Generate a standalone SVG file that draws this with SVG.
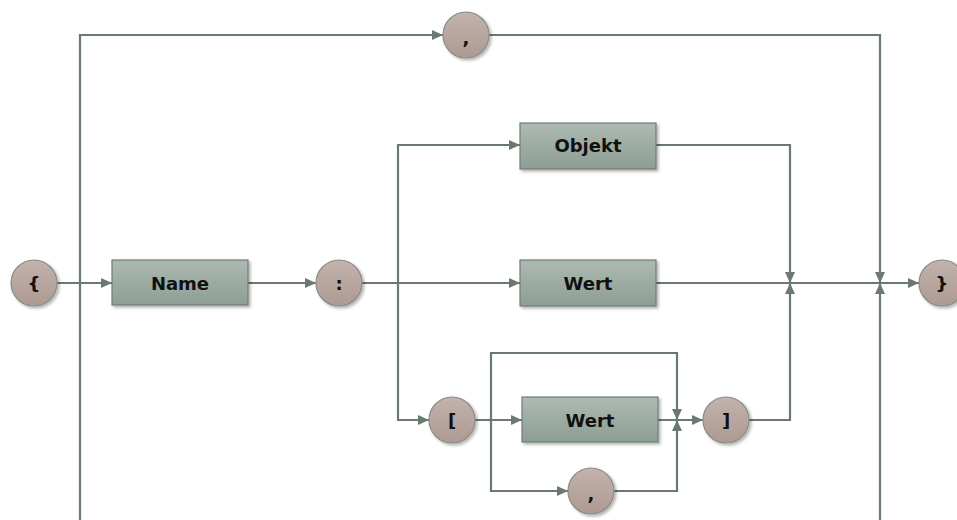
<svg xmlns="http://www.w3.org/2000/svg" width="957" height="520" viewBox="0 0 957 520">
  <style>
    .wire { fill: none; stroke: #6a7972; stroke-width: 2.2; }
    .arrow { marker-end: url(#head); }
    .term { fill: url(#termFill); stroke: #8a8c86; stroke-width: 1.2; filter: url(#shadow); }
    .rule { fill: url(#ruleFill); stroke: #6f7d76; stroke-width: 1.2; filter: url(#shadow); }
    .label { font-family: "DejaVu Sans", "Liberation Sans", sans-serif; font-weight: bold; font-size: 18px; fill: #111; text-anchor: middle; dominant-baseline: central; }
  </style>
  <defs>
    <linearGradient id="termFill" x1="0" y1="0" x2="0" y2="1">
      <stop offset="0" stop-color="#c3b3ac"/>
      <stop offset="1" stop-color="#ad9a92"/>
    </linearGradient>
    <linearGradient id="ruleFill" x1="0" y1="0" x2="0" y2="1">
      <stop offset="0" stop-color="#adbab2"/>
      <stop offset="1" stop-color="#8d9e94"/>
    </linearGradient>
    <filter id="shadow" x="-20%" y="-20%" width="150%" height="150%">
      <feGaussianBlur in="SourceAlpha" stdDeviation="1.5"/>
      <feOffset dx="2" dy="2" result="off"/>
      <feComponentTransfer><feFuncA type="linear" slope="0.3"/></feComponentTransfer>
      <feMerge><feMergeNode/><feMergeNode in="SourceGraphic"/></feMerge>
    </filter>
    <marker id="head" markerUnits="userSpaceOnUse" markerWidth="12" markerHeight="10" refX="11" refY="5" orient="auto">
      <path d="M0,0 L11,5 L0,10 Z" fill="#6a7972"/>
    </marker>
  </defs>

  <g id="connectors">
    <path class="wire arrow" d="M57,283 H112"/>
    <path class="wire arrow" d="M248,283 H316"/>
    <path class="wire arrow" d="M362,283 H520"/>
    <path class="wire arrow" d="M398,283 V145 H520"/>
    <path class="wire arrow" d="M398,283 V420 H429"/>
    <path class="wire arrow" d="M656,145 H790 V283"/>
    <path class="wire arrow" d="M656,283 H919"/>
    <path class="wire arrow" d="M748,420 H790 V283"/>
    <path class="wire arrow" d="M80,283 V35 H443"/>
    <path class="wire" d="M80,283 V520"/>
    <path class="wire arrow" d="M489,35 H880 V283"/>
    <path class="wire arrow" d="M880,520 V283"/>
    <path class="wire arrow" d="M475,420 H522"/>
    <path class="wire arrow" d="M658,420 H703"/>
    <path class="wire arrow" d="M491,420 V353 H677 V420"/>
    <path class="wire arrow" d="M491,420 V491 H568"/>
    <path class="wire arrow" d="M614,491 H677 V420"/>
  </g>

  <g id="open-brace"><circle class="term" cx="34" cy="283" r="23"/><text class="label" x="34" y="283">{</text></g>
  <g id="name"><rect class="rule" x="112" y="260" width="136" height="45"/><text class="label" x="180" y="283">Name</text></g>
  <g id="colon"><circle class="term" cx="339" cy="283" r="23"/><text class="label" x="339" y="283">:</text></g>
  <g id="comma-top"><circle class="term" cx="466" cy="35" r="23"/><text class="label" x="466" y="37">,</text></g>
  <g id="objekt"><rect class="rule" x="520" y="123" width="136" height="46"/><text class="label" x="588" y="145">Objekt</text></g>
  <g id="wert"><rect class="rule" x="520" y="260" width="136" height="46"/><text class="label" x="588" y="283">Wert</text></g>
  <g id="close-brace"><circle class="term" cx="942" cy="283" r="23"/><text class="label" x="942" y="283">}</text></g>
  <g id="open-bracket"><circle class="term" cx="452" cy="420" r="23"/><text class="label" x="452" y="420">[</text></g>
  <g id="wert-list"><rect class="rule" x="522" y="397" width="136" height="45"/><text class="label" x="590" y="420">Wert</text></g>
  <g id="close-bracket"><circle class="term" cx="726" cy="420" r="23"/><text class="label" x="726" y="420">]</text></g>
  <g id="comma-list"><circle class="term" cx="591" cy="491" r="23"/><text class="label" x="591" y="493">,</text></g>
</svg>
